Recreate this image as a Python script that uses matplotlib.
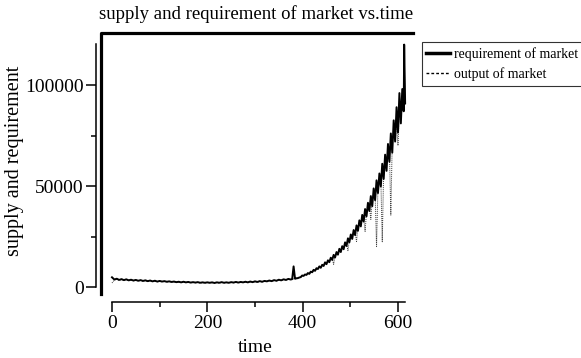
import numpy as np
import matplotlib
matplotlib.use("Agg")
import matplotlib.pyplot as plt
from matplotlib.lines import Line2D

plt.rc('font', family='Liberation Serif')

# time axis: step 5 on the flat part, step 3 on the growth part
time = list(range(0, 376, 5)) + list(range(378, 613, 3)) + [613, 615]

requirement = [4800, 3700, 4100, 3500, 3900, 3400, 3800, 3300, 3600, 3200,
               3500, 3100, 3400, 3000, 3300, 2900, 3200, 2800, 3100, 2700,
               3000, 2700, 2900, 2600, 2800, 2500, 2700, 2400, 2600, 2300,
               2600, 2300, 2500, 2200, 2400, 2200, 2400, 2100, 2300, 2100,
               2300, 2100, 2300, 2000, 2300, 2100, 2400, 2100, 2300, 2100,
               2400, 2200, 2500, 2200, 2500, 2300, 2600, 2300, 2700, 2400,
               2800, 2500, 2900, 2600, 3000, 2800, 3200, 2900, 3400, 3100,
               3600, 3300, 3800, 3500, 4000, 3700,
               # growth part, t = 378 ... 612
               3900, 10200, 4100, 4300, 4400, 4700, 4900, 5700, 5500, 6200,
               6000, 6900, 6500, 7600, 7300, 8500, 8000, 9300, 8900, 10200,
               9500, 11000, 10400, 12200, 11300, 13200, 12300, 14500, 13400, 15900,
               14600, 17300, 16000, 18900, 17300, 20200, 18700, 22100, 20300, 24100,
               22100, 26000, 23800, 28200, 25700, 30500, 27800, 33000, 30000, 35700,
               32400, 38600, 35000, 41700, 37600, 45000, 40000, 48800, 43000, 52800,
               46500, 56200, 49800, 61000, 53500, 65500, 57500, 70800, 62000, 76000,
               66500, 82500, 72000, 89000, 76500, 96000, 81000, 98000, 87000,
               120000, 91000]

output = [2000, 3500, 3800, 3400, 3700, 3300, 3600, 3200, 3500, 3100,
          3400, 3000, 3300, 2900, 3200, 2800, 3100, 2700, 3000, 2600,
          2900, 2600, 2800, 2500, 2700, 2400, 2600, 2300, 2500, 2200,
          2500, 2200, 2400, 2100, 2300, 2100, 2300, 2000, 2200, 2000,
          2200, 2000, 2200, 1900, 2200, 2000, 2300, 2000, 2200, 2000,
          2300, 2100, 2400, 2100, 2400, 2200, 2500, 2200, 2600, 2300,
          2700, 2400, 2800, 2500, 2900, 2700, 3100, 2800, 3300, 3000,
          3500, 3200, 3700, 3400, 3900, 3600,
          # growth part, t = 378 ... 612
          3950, 4000, 4100, 4300, 4500, 4700, 4900, 5500, 5700, 5900,
          6200, 6500, 6800, 7200, 7600, 8000, 8400, 8800, 9200, 9600,
          10000, 10400, 10900, 11400, 11900, 12400, 13000, 13500, 14200, 11200,
          15500, 16200, 16900, 17600, 18200, 19000, 19800, 20700, 21600, 18000,
          23400, 24300, 25300, 26300, 27400, 22500, 29700, 30800, 32000, 33300,
          34600, 27500, 37400, 38900, 40000, 33500, 43300, 45000, 46800, 20000,
          50000, 51800, 53800, 22400, 58000, 60300, 62500, 64800, 67300, 35600,
          72500, 75300, 78200, 81200, 70000, 86500, 89000, 92000, 95000,
          115000, 90000]

W, H = 581, 358
fig = plt.figure(figsize=(W / 100, H / 100), dpi=100)

# axes box in pixels: x 100.5..413, y 33..294
ax = fig.add_axes([100.5 / W, 1 - 294 / H, 312.5 / W, 261 / H])
ax.set_xlim(-24.1, 631.5)
ax.set_ylim(-3465, 125743)

ax.plot(time, output, color='0.25', linestyle=(0, (1, 1)), linewidth=0.7,
        label='output of market')
ax.plot(time, requirement, color='black', linewidth=1.4,
        label='requirement of market')

# frame: thick left and top line
ax.add_line(Line2D([0, 0, 1], [0, 1, 1], transform=ax.transAxes,
                   color='black', linewidth=2.3, clip_on=False))

ax.spines['right'].set_visible(False)
ax.spines['top'].set_visible(False)
ax.spines['left'].set_position(('outward', 3.6))
ax.spines['left'].set_bounds(0, 120300)
ax.spines['bottom'].set_position(('outward', 5.8))
ax.spines['bottom'].set_bounds(0, 615)
for s in ['left', 'bottom']:
    ax.spines[s].set_linewidth(1.1)

ax.set_yticks([0, 50000, 100000])
ax.set_yticks([25000, 75000], minor=True)
ax.set_yticklabels(['0', '50000', '100000'])
ax.set_xticks([0, 200, 400, 600])
ax.set_xticks([100, 300, 500], minor=True)

ax.tick_params(which='major', direction='out', length=7, width=1.1,
               labelsize=14)
ax.tick_params(which='minor', direction='out', length=3.6, width=1.1)
ax.tick_params(axis='y', which='major', pad=1.5)
ax.tick_params(axis='x', which='major', pad=2.5)

fig.text(256 / W, 1 - 14 / H, 'supply and requirement of market vs.time',
         ha='center', va='center', fontsize=13.5)
fig.text(255 / W, 1 - 347 / H, 'time', ha='center', va='center', fontsize=14)
fig.text(15 / W, 1 - 161 / H, 'supply and requirement', ha='center',
         va='center', rotation=90, fontsize=14.5)

handles = [Line2D([], [], color='black', linewidth=2.5),
           Line2D([], [], color='black', linestyle=(0, (2, 1.5)), linewidth=1)]
leg = fig.legend(handles, ['requirement of market', 'output of market'],
                 loc='upper left', bbox_to_anchor=(421.5 / W, 1 - 42 / H),
                 fontsize=10, frameon=True, fancybox=False, handlelength=1.7,
                 handletextpad=0.3, borderpad=0.35, labelspacing=0.45,
                 borderaxespad=0)
leg.get_frame().set_edgecolor('black')
leg.get_frame().set_linewidth(0.8)

fig.savefig('out.png', dpi=100)
